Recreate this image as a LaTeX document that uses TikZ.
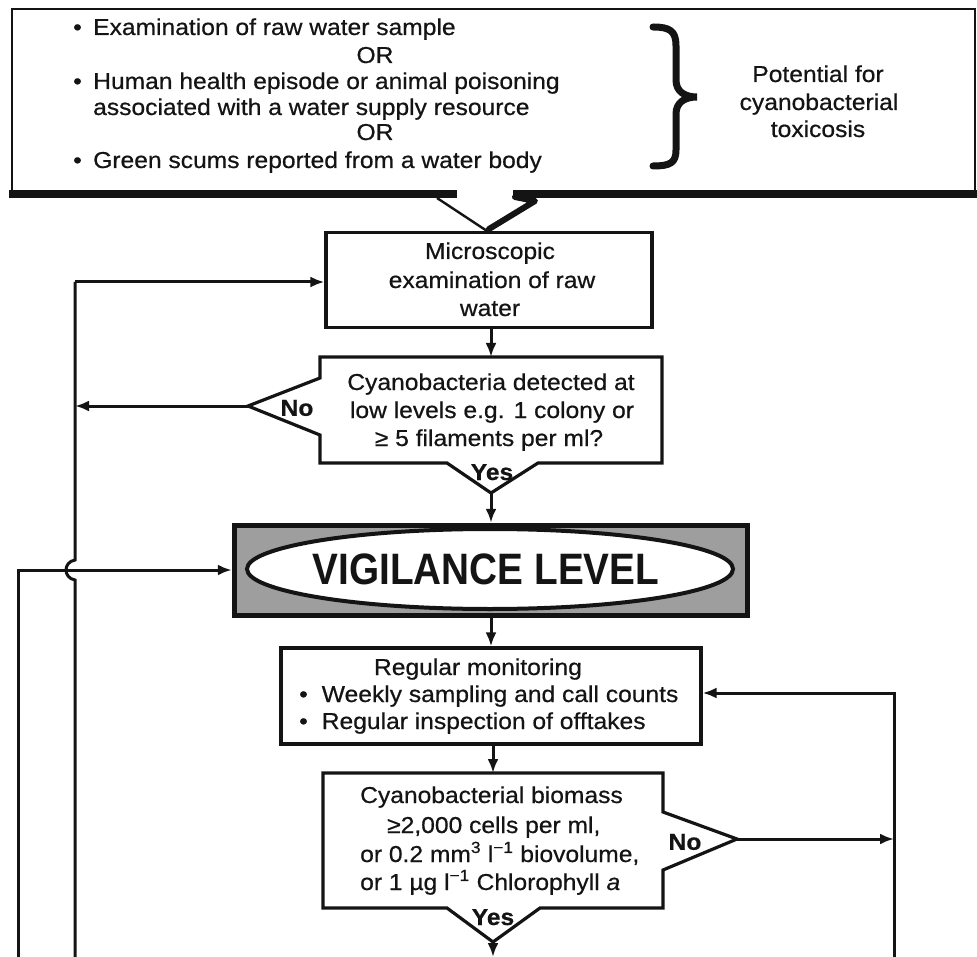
\documentclass[tikz,border=0pt]{standalone}
\usepackage{fontspec}
\setmainfont{Liberation Sans}[FakeStretch=1.07,FakeBold=0.6]
\newfontfamily\titlefont{Liberation Sans}[FakeStretch=0.88]
\usetikzlibrary{arrows.meta,shapes.geometric}
\definecolor{vgray}{gray}{0.62}
\definecolor{ink}{gray}{0.08}
\begin{document}
\begin{tikzpicture}[x=1pt,y=-1pt, color=ink,
  txt/.style={font=\fontsize{23}{28}\selectfont, inner sep=0pt},
  lbl/.style={font=\fontsize{23}{28}\selectfont\bfseries, inner sep=0pt},
  box/.style={draw, line width=3.2pt, inner sep=0pt},
  shp/.style={line width=3.2pt, line join=miter},
  conn/.style={line width=3pt},
  arr/.style={conn, -{Latex[length=14pt,width=11pt]}}
]
\useasboundingbox (0,0) rectangle (977,957);

% ---------- top box ----------
\draw[line width=2.8pt] (12,192) -- (12,9) -- (975,9) -- (975,192);
\draw[line width=8pt] (9,194) -- (457,194);
\draw[line width=8pt] (513,194) -- (977,194);
\draw[line width=2.4pt] (437,198) -- (487,231);
\draw[line width=6pt, line join=round, line cap=round] (515,197) -- (535,201) -- (489,229);

\node[txt, anchor=base west] (t1) at (73,35) {\textbullet\hspace{11.4pt}Examination of raw water sample};
\node[txt, anchor=base] (or1) at (375,63) {OR};
\node[txt, anchor=base west] (t2) at (73,89) {\textbullet\hspace{11.4pt}Human health episode or animal poisoning};
\node[txt, anchor=base west] (t2b) at (93,115) {associated with a water supply resource};
\node[txt, anchor=base] (or2) at (375,140) {OR};
\node[txt, anchor=base west] (t3) at (73,168) {\textbullet\hspace{11.4pt}Green scums reported from a water body};

\draw[line width=7pt, line cap=round] (653,27) .. controls (670,27) and (676,31) .. (676,46) -- (676,80)
  .. controls (676,91) and (684,97) .. (697,97) .. controls (684,97) and (676,103) .. (676,114)
  -- (676,150) .. controls (676,163) and (670,166) .. (653,166);

\node[txt, anchor=base] (p1) at (818,82) {Potential for};
\node[txt, anchor=base] (p2) at (819,110) {cyanobacterial};
\node[txt, anchor=base] (p3) at (818,137) {toxicosis};

% ---------- microscopic box ----------
\node[box, minimum width=326pt, minimum height=95pt] (micro) at (489,280) {};
\node[txt, anchor=base] (m1) at (490,259) {Microscopic};
\node[txt, anchor=base] (m2) at (492,288) {examination of raw};
\node[txt, anchor=base] (m3) at (490,316) {water};

% ---------- decision 1 ----------
\draw[shp] (320,357) -- (662,357) -- (662,463) -- (538,463) -- (491,493) -- (447,463)
  -- (320,463) -- (320,435) -- (248,406) -- (320,378) -- cycle;
\coordinate (d1top) at (491,357);
\coordinate (d1no) at (248,406);
\coordinate (d1yes) at (491,493);
\node[txt, anchor=base] (d1a) at (491,390) {Cyanobacteria detected at};
\node[txt, anchor=base] (d1b) at (492,418) {low levels e.g. 1 colony or};
\node[txt, anchor=base] (d1c) at (489,446) {≥ 5 filaments per ml?};
\node[lbl] (d1n) at (297,408) {No};
\node[lbl, anchor=base] (d1y) at (492,480) {Yes};

% ---------- vigilance ----------
\node[draw, line width=5.5pt, fill=vgray, minimum width=513pt, minimum height=90pt, inner sep=0pt] (vig) at (491,570.5) {};
\node[draw, ellipse, line width=4pt, fill=white, minimum width=486pt, minimum height=80pt, inner sep=0pt] (vige) at (490,569) {};
\node[inner sep=0pt, font=\titlefont\fontsize{44}{44}\selectfont\bfseries] (vigt) at (486,569) {VIGILANCE LEVEL};

% ---------- monitoring box ----------
\node[box, minimum width=420pt, minimum height=96pt] (mon) at (491,696) {};
\node[txt, anchor=base] (mon1) at (478,675) {Regular monitoring};
\node[txt, anchor=base west] (mon2) at (299,702) {\textbullet\hspace{14pt}Weekly sampling and call counts};
\node[txt, anchor=base west] (mon3) at (299,729) {\textbullet\hspace{14pt}Regular inspection of offtakes};

% ---------- decision 2 ----------
\draw[shp] (323,773) -- (663,773) -- (663,812) -- (737,839) -- (663,870) -- (663,908)
  -- (540,908) -- (493,942) -- (447,908) -- (323,908) -- cycle;
\coordinate (d2top) at (493,773);
\coordinate (d2no) at (737,839);
\coordinate (d2yes) at (493,942);
\node[txt, anchor=base west] (d2a) at (360,803) {Cyanobacterial biomass};
\node[txt, anchor=base west] (d2b) at (387,833) {≥2,000 cells per ml,};
\node[txt, anchor=base west] (d2c) at (360,862) {or 0.2 mm\textsuperscript{3} l\textsuperscript{−1} biovolume,};
\node[txt, anchor=base west] (d2d) at (360,890) {or 1 µg l\textsuperscript{−1} Chlorophyll \textit{a}};
\node[lbl] (d2n) at (685,842) {No};
\node[lbl, anchor=base] (d2y) at (493,925) {Yes};

% ---------- connectors ----------
\coordinate (L1top) at (75,282);
\coordinate (L1bot) at (75,957);
\coordinate (L2) at (18,570);
\coordinate (L2bot) at (18,957);
\coordinate (R1) at (894,693);
\coordinate (R1bot) at (894,957);
\coordinate (d2out) at (493,957);

\draw[arr] (L1top) -- (L1top -| micro.west);
\draw[conn] (L1top) -- (75,560) .. controls (63,562) and (63,578) .. (75,580) -- (L1bot);
\draw[arr] (micro.south -| d1top) -- (d1top);
\draw[arr] (d1no) -- (d1no -| L1top);
\draw[arr] (d1yes) -- (d1yes |- vig.north);
\draw[arr] (L2bot) -- (L2) -- (L2 -| vig.west);
\draw[arr] (vig.south) -- (vig.south |- mon.north);
\draw[arr] (mon.south -| d2top) -- (d2top);
\draw[arr] (R1bot) -- (R1) -- (R1 -| mon.east);
\draw[arr] (d2no) -- (d2no -| R1);
\draw[arr] (d2yes) -- (d2out);
\end{tikzpicture}
\end{document}
